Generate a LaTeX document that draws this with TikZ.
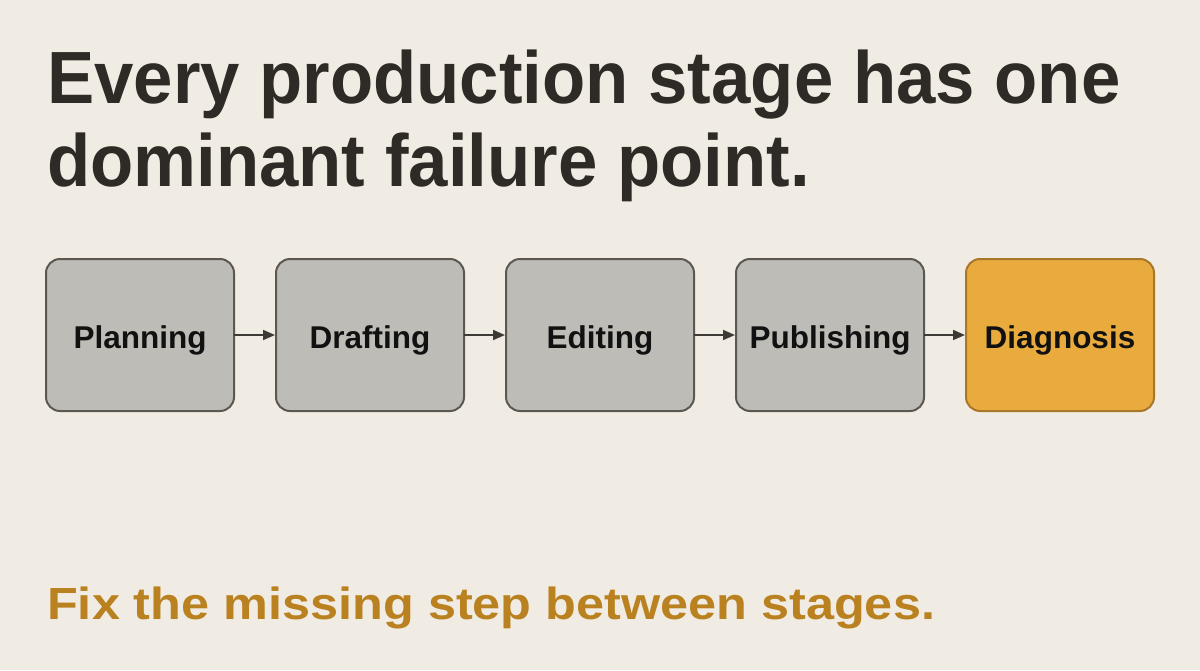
\documentclass[tikz,border=0pt]{standalone}
\usepackage{fontspec}
\setmainfont{Liberation Sans}
\newfontfamily\titlefont[FakeStretch=0.956]{Liberation Sans}
\newfontfamily\notefont[FakeStretch=1.12]{Liberation Sans}
\usetikzlibrary{arrows.meta}
\definecolor{bg}{HTML}{F1ECE3}
\definecolor{ink}{HTML}{2E2A25}
\definecolor{gold}{HTML}{BA8120}
\definecolor{boxfill}{HTML}{BEBCB7}
\definecolor{boxline}{HTML}{5B5852}
\definecolor{hifill}{HTML}{E9AB3D}
\definecolor{hiline}{HTML}{A8772A}
\definecolor{arrowc}{HTML}{3D3A35}
\definecolor{labelc}{HTML}{111111}
\tikzset{
  stagebox/.style={draw=boxline, fill=boxfill, line width=2pt, rounded corners=14pt,
    minimum width=188pt, minimum height=152pt, inner sep=0pt, outer sep=0pt,
    text height=27pt, text depth=0pt,
    font=\fontsize{31.5}{36}\selectfont\bfseries, text=labelc},
  hibox/.style={stagebox, draw=hiline, fill=hifill},
  flow/.style={draw=arrowc, line width=1.8pt, -{Triangle[length=12pt,width=10pt]}, shorten >=1pt},
  titletext/.style={anchor=base west, inner sep=0pt, text=ink,
    font=\titlefont\fontsize{74}{83}\selectfont\bfseries},
  notetext/.style={anchor=base west, inner sep=0pt, text=gold,
    font=\notefont\fontsize{45}{50}\selectfont\bfseries}
}
\begin{document}
\begin{tikzpicture}[x=1pt,y=-1pt]
\fill[bg] (0,0) rectangle (1200,670);
\useasboundingbox (0,0) rectangle (1200,670);
\node[titletext] (t1) at (47,103) {Every production stage has one};
\node[titletext] (t2) at (47,186) {dominant failure point.};
\node[stagebox] (s1) at (140,335) {Planning};
\node[stagebox] (s2) at (370,335) {Drafting};
\node[stagebox] (s3) at (600,335) {Editing};
\node[stagebox] (s4) at (830,335) {Publishing};
\node[hibox] (s5) at (1060,335) {Diagnosis};
\draw[flow] (s1.east) -- (s2.west);
\draw[flow] (s2.east) -- (s3.west);
\draw[flow] (s3.east) -- (s4.west);
\draw[flow] (s4.east) -- (s5.west);
\node[notetext] (note) at (47,619) {Fix the missing step between stages.};
\end{tikzpicture}
\end{document}
